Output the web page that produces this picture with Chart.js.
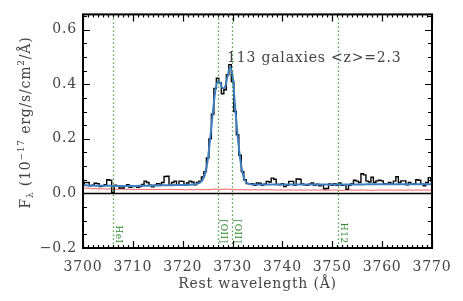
<!DOCTYPE html>
<html>
<head>
<meta charset="utf-8">
<script src="https://cdn.jsdelivr.net/npm/chart.js@4"></script>
<style>
  body { margin: 0; background: #fff; }
  canvas { display: block; }
</style>
</head>
<body>
<canvas id="grafico" width="463" height="301"></canvas>
<script>
// wavelength grid (A), 0.5 A bins
const comprimento = [
  3700.0, 3700.5, 3701.0, 3701.5, 3702.0, 3702.5, 3703.0, 3703.5, 3704.0, 3704.5,
  3705.0, 3705.5, 3706.0, 3706.5, 3707.0, 3707.5, 3708.0, 3708.5, 3709.0, 3709.5,
  3710.0, 3710.5, 3711.0, 3711.5, 3712.0, 3712.5, 3713.0, 3713.5, 3714.0, 3714.5,
  3715.0, 3715.5, 3716.0, 3716.5, 3717.0, 3717.5, 3718.0, 3718.5, 3719.0, 3719.5,
  3720.0, 3720.5, 3721.0, 3721.5, 3722.0, 3722.5, 3723.0, 3723.5, 3724.0, 3724.5,
  3725.0, 3725.5, 3726.0, 3726.5, 3727.0, 3727.5, 3728.0, 3728.5, 3729.0, 3729.5,
  3730.0, 3730.5, 3731.0, 3731.5, 3732.0, 3732.5, 3733.0, 3733.5, 3734.0, 3734.5,
  3735.0, 3735.5, 3736.0, 3736.5, 3737.0, 3737.5, 3738.0, 3738.5, 3739.0, 3739.5,
  3740.0, 3740.5, 3741.0, 3741.5, 3742.0, 3742.5, 3743.0, 3743.5, 3744.0, 3744.5,
  3745.0, 3745.5, 3746.0, 3746.5, 3747.0, 3747.5, 3748.0, 3748.5, 3749.0, 3749.5,
  3750.0, 3750.5, 3751.0, 3751.5, 3752.0, 3752.5, 3753.0, 3753.5, 3754.0, 3754.5,
  3755.0, 3755.5, 3756.0, 3756.5, 3757.0, 3757.5, 3758.0, 3758.5, 3759.0, 3759.5,
  3760.0, 3760.5, 3761.0, 3761.5, 3762.0, 3762.5, 3763.0, 3763.5, 3764.0, 3764.5,
  3765.0, 3765.5, 3766.0, 3766.5, 3767.0, 3767.5, 3768.0, 3768.5, 3769.0, 3769.5,
  3770.0
];

// stacked spectrum (black histogram)
const fluxo = [
  0.032, 0.040, 0.040, 0.028, 0.030, 0.037, 0.036, 0.025, 0.028, 0.032,
  0.050, 0.048, 0.004, 0.030, 0.028, 0.020, 0.020, 0.026, 0.032, 0.022,
  0.025, 0.028, 0.022, 0.025, 0.033, 0.045, 0.040, 0.030, 0.024, 0.030,
  0.036, 0.034, 0.040, 0.062, 0.063, 0.030, 0.040, 0.045, 0.030, 0.045,
  0.044, 0.030, 0.038, 0.045, 0.042, 0.032, 0.040, 0.045, 0.060, 0.080,
  0.130, 0.200, 0.290, 0.385, 0.422, 0.405, 0.365, 0.380, 0.435, 0.472,
  0.410, 0.300, 0.215, 0.140, 0.080, 0.050, 0.036, 0.035, 0.036, 0.030,
  0.038, 0.037, 0.030, 0.034, 0.044, 0.042, 0.056, 0.052, 0.033, 0.032,
  0.036, 0.025, 0.030, 0.044, 0.044, 0.030, 0.053, 0.052, 0.035, 0.032,
  0.030, 0.034, 0.038, 0.030, 0.034, 0.028, 0.032, 0.017, 0.018, 0.035,
  0.030, 0.036, 0.030, 0.038, 0.030, 0.032, 0.015, 0.030, 0.036, 0.048,
  0.045, 0.040, 0.072, 0.068, 0.045, 0.042, 0.059, 0.040, 0.046, 0.048,
  0.046, 0.036, 0.034, 0.040, 0.036, 0.045, 0.061, 0.040, 0.046, 0.046,
  0.032, 0.040, 0.033, 0.035, 0.050, 0.048, 0.034, 0.028, 0.040, 0.058,
  0.045
];

// fitted model (blue)
const ajuste = [
  0.030, 0.030, 0.029, 0.029, 0.029, 0.028, 0.028, 0.028, 0.028, 0.028,
  0.028, 0.028, 0.027, 0.027, 0.027, 0.027, 0.027, 0.027, 0.027, 0.027,
  0.027, 0.027, 0.028, 0.028, 0.028, 0.028, 0.028, 0.029, 0.029, 0.029,
  0.029, 0.029, 0.030, 0.030, 0.030, 0.030, 0.030, 0.031, 0.031, 0.031,
  0.031, 0.031, 0.032, 0.032, 0.033, 0.034, 0.036, 0.040, 0.050, 0.072,
  0.120, 0.200, 0.290, 0.370, 0.410, 0.405, 0.385, 0.390, 0.430, 0.462,
  0.430, 0.320, 0.215, 0.130, 0.075, 0.048, 0.037, 0.034, 0.033, 0.033,
  0.033, 0.033, 0.033, 0.033, 0.033, 0.033, 0.033, 0.033, 0.033, 0.033,
  0.033, 0.033, 0.033, 0.033, 0.033, 0.033, 0.033, 0.033, 0.033, 0.033,
  0.033, 0.033, 0.033, 0.033, 0.033, 0.033, 0.033, 0.033, 0.033, 0.033,
  0.033, 0.033, 0.033, 0.033, 0.033, 0.033, 0.033, 0.033, 0.033, 0.033,
  0.033, 0.033, 0.033, 0.033, 0.034, 0.034, 0.034, 0.034, 0.034, 0.034,
  0.034, 0.034, 0.034, 0.034, 0.034, 0.034, 0.034, 0.034, 0.034, 0.034,
  0.034, 0.034, 0.034, 0.034, 0.034, 0.034, 0.034, 0.034, 0.034, 0.034,
  0.034
];

// error spectrum (red)
const erro = [
  0.020, 0.019, 0.020, 0.018, 0.017, 0.018, 0.017, 0.016, 0.017, 0.016,
  0.016, 0.017, 0.015, 0.016, 0.015, 0.016, 0.015, 0.015, 0.016, 0.015,
  0.015, 0.014, 0.015, 0.015, 0.014, 0.015, 0.014, 0.015, 0.014, 0.014,
  0.015, 0.014, 0.014, 0.015, 0.014, 0.014, 0.015, 0.014, 0.014, 0.014,
  0.014, 0.013, 0.014, 0.014, 0.013, 0.014, 0.014, 0.013, 0.014, 0.014,
  0.014, 0.014, 0.015, 0.016, 0.015, 0.014, 0.015, 0.016, 0.016, 0.015,
  0.014, 0.014, 0.013, 0.014, 0.013, 0.013, 0.014, 0.013, 0.013, 0.014,
  0.013, 0.013, 0.014, 0.013, 0.013, 0.014, 0.013, 0.013, 0.012, 0.013,
  0.013, 0.012, 0.013, 0.013, 0.012, 0.013, 0.012, 0.013, 0.012, 0.012,
  0.013, 0.012, 0.012, 0.013, 0.012, 0.012, 0.013, 0.012, 0.011, 0.012,
  0.012, 0.013, 0.012, 0.012, 0.011, 0.012, 0.012, 0.013, 0.012, 0.012,
  0.012, 0.012, 0.013, 0.012, 0.012, 0.012, 0.011, 0.012, 0.012, 0.013,
  0.012, 0.012, 0.012, 0.013, 0.012, 0.012, 0.012, 0.013, 0.012, 0.012,
  0.012, 0.013, 0.012, 0.012, 0.013, 0.012, 0.012, 0.012, 0.013, 0.012,
  0.012
];

// marked lines (vacuum wavelengths)
const linhasNomes = ["HeI", "[OII]", "[OII]", "H12"];
const linhasLambda = [3706.0, 3727.09, 3729.88, 3751.22];

const xTicks = [3700, 3710, 3720, 3730, 3740, 3750, 3760, 3770];
const yTicks = [-0.2, 0.0, 0.2, 0.4, 0.6];
const xMin = 3700, xMax = 3770;
const yMin = -0.2, yMax = 0.656;

const rotulo = "113 galaxies <z>=2.3";

const fonteSerif = "'DejaVu Serif', 'Liberation Serif', serif";
const corTexto = "#444";
const espacamento = "0.8px";

function pontos(ys) {
    return comprimento.map((x, i) => ({ x: x, y: ys[i] }));
}

// wider letter spacing like the IDL vector font
const espacoPlugin = {
    id: "espaco",
    beforeDraw(chart) {
        chart.ctx.letterSpacing = espacamento;
    }
};

// frame, tick marks, zero line, line markers and texts (IDL look)
const molduraPlugin = {
    id: "moldura",
    afterDatasetsDraw(chart) {
        const ctx = chart.ctx;
        const a = chart.chartArea;
        const sx = chart.scales.x;
        const sy = chart.scales.y;
        ctx.save();

        // zero line
        ctx.strokeStyle = "#000";
        ctx.lineWidth = 1.6;
        ctx.beginPath();
        const y0 = Math.round(sy.getPixelForValue(0)) + 0.5;
        ctx.moveTo(a.left, y0);
        ctx.lineTo(a.right, y0);
        ctx.stroke();

        // green dotted markers
        ctx.strokeStyle = "#2e8b2e";
        ctx.lineWidth = 1.3;
        ctx.setLineDash([1.3, 2.7]);
        linhasLambda.forEach(l => {
            const px = Math.round(sx.getPixelForValue(l)) + 0.5;
            ctx.beginPath();
            ctx.moveTo(px, a.top);
            ctx.lineTo(px, a.bottom);
            ctx.stroke();
        });
        ctx.setLineDash([]);

        ctx.fillStyle = "#2e8b2e";
        ctx.font = "9px " + fonteSerif;
        ctx.letterSpacing = "0.5px";
        ctx.textAlign = "right";
        ctx.textBaseline = "alphabetic";
        linhasLambda.forEach((l, i) => {
            const px = sx.getPixelForValue(l);
            ctx.save();
            ctx.translate(px + 3, sy.getPixelForValue(-0.184));
            ctx.rotate(Math.PI / 2);
            ctx.fillText(linhasNomes[i], 0, 0);
            ctx.restore();
        });
        ctx.letterSpacing = espacamento;

        // ticks
        ctx.strokeStyle = "#000";
        ctx.lineWidth = 1.2;
        ctx.beginPath();
        for (let v = xMin; v <= xMax; v += 1) {
            const px = Math.round(sx.getPixelForValue(v)) + 0.5;
            const len = (v % 10 === 0) ? 7 : 3;
            ctx.moveTo(px, a.bottom);
            ctx.lineTo(px, a.bottom - len);
            ctx.moveTo(px, a.top);
            ctx.lineTo(px, a.top + len);
        }
        for (let k = -4; k * 0.05 <= yMax; k++) {
            const v = k * 0.05;
            const py = Math.round(sy.getPixelForValue(v)) + 0.5;
            const len = (k % 4 === 0) ? 7 : 4;
            ctx.moveTo(a.left, py);
            ctx.lineTo(a.left + len, py);
            ctx.moveTo(a.right, py);
            ctx.lineTo(a.right - len, py);
        }
        ctx.stroke();

        // frame
        ctx.lineWidth = 2;
        ctx.strokeRect(a.left, a.top, a.right - a.left, a.bottom - a.top);

        // annotation
        ctx.fillStyle = corTexto;
        ctx.font = "14px " + fonteSerif;
        ctx.textAlign = "left";
        ctx.textBaseline = "alphabetic";
        ctx.fillText(rotulo, sx.getPixelForValue(3728.9), sy.getPixelForValue(0.483));

        // x title
        ctx.textAlign = "center";
        ctx.fillText("Rest wavelength (Å)", (a.left + a.right) / 2, 288);

        // y title with sub/superscripts
        const partes = [
            { t: "F", f: 14, dy: 0 },
            { t: "λ", f: 9, dy: 3 },
            { t: " (10", f: 14, dy: 0 },
            { t: "−17", f: 9, dy: -6 },
            { t: " erg/s/cm", f: 14, dy: 0 },
            { t: "2", f: 9, dy: -6 },
            { t: "/Å)", f: 14, dy: 0 }
        ];
        let total = 0;
        partes.forEach(p => {
            ctx.font = p.f + "px " + fonteSerif;
            p.w = ctx.measureText(p.t).width;
            total += p.w;
        });
        ctx.save();
        ctx.translate(30, 122.5);
        ctx.rotate(-Math.PI / 2);
        ctx.textAlign = "left";
        let cx = -total / 2;
        partes.forEach(p => {
            ctx.font = p.f + "px " + fonteSerif;
            ctx.fillText(p.t, cx, p.dy);
            cx += p.w;
        });
        ctx.restore();

        ctx.restore();
    }
};

const ctxGrafico = document.getElementById("grafico").getContext("2d");

new Chart(ctxGrafico, {
    type: "line",
    data: {
        datasets: [
            {
                label: "Ajuste",
                data: pontos(ajuste),
                borderColor: "#3d7fc0",
                borderWidth: 2,
                pointRadius: 0,
                cubicInterpolationMode: "monotone",
                order: 0
            },
            {
                label: "Espectro",
                data: pontos(fluxo),
                borderColor: "#000",
                borderWidth: 1.4,
                pointRadius: 0,
                stepped: "middle",
                order: 1
            },
            {
                label: "Erro",
                data: pontos(erro),
                borderColor: "#ff5a5a",
                borderWidth: 1,
                pointRadius: 0,
                order: 2
            }
        ]
    },
    options: {
        responsive: false,
        animation: false,
        layout: { padding: { top: 14, right: 31, left: 0, bottom: 0 } },
        plugins: {
            legend: { display: false },
            tooltip: { enabled: false }
        },
        scales: {
            x: {
                type: "linear",
                min: xMin,
                max: xMax,
                grid: { display: false, drawTicks: false },
                border: { display: false },
                afterBuildTicks: s => { s.ticks = xTicks.map(v => ({ value: v })); },
                afterFit: s => { s.height = 53; },
                ticks: {
                    padding: 11,
                    maxRotation: 0,
                    autoSkip: false,
                    color: corTexto,
                    font: { family: fonteSerif, size: 14 },
                    callback: v => String(v)
                }
            },
            y: {
                min: yMin,
                max: yMax,
                grid: { display: false, drawTicks: false },
                border: { display: false },
                afterBuildTicks: s => { s.ticks = yTicks.map(v => ({ value: v })); },
                afterFit: s => { s.width = 83; },
                ticks: {
                    padding: 6,
                    autoSkip: false,
                    color: corTexto,
                    font: { family: fonteSerif, size: 14 },
                    callback: v => (v < 0 ? "−" : "") + Math.abs(v).toFixed(1)
                }
            }
        }
    },
    plugins: [espacoPlugin, molduraPlugin]
});
</script>
</body>
</html>
